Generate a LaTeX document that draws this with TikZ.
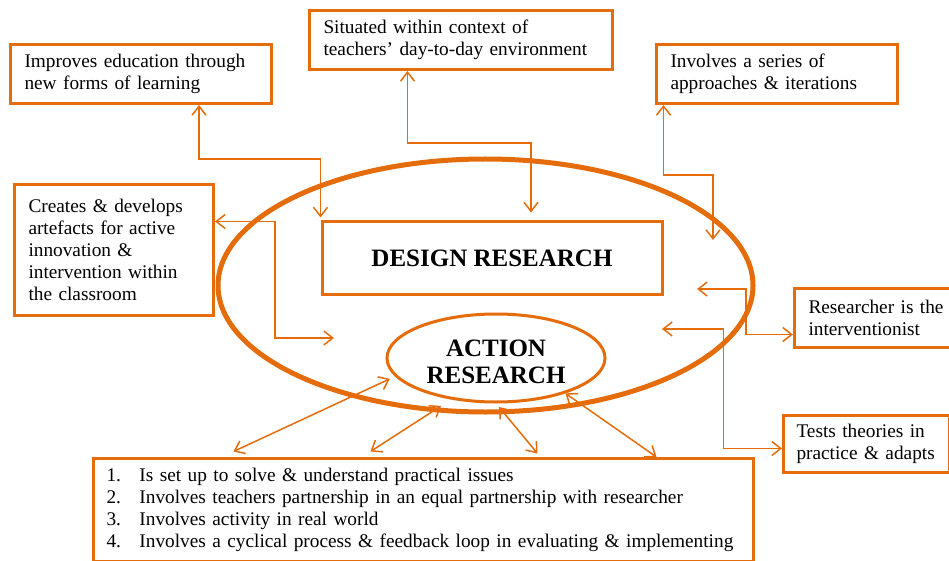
\documentclass[tikz,border=0pt]{standalone}
\usepackage{fontspec}
\setmainfont{Liberation Serif}
\usetikzlibrary{shapes.geometric,arrows.meta}

\definecolor{arorange}{HTML}{E46C0A}
\newcommand{\itemnum}[1]{\makebox[33pt][l]{#1.}}

\tikzset{
  notebox/.style={draw=arorange, line width=3pt, anchor=north west, align=left,
    inner xsep=14pt, inner ysep=0pt, font=\fontsize{19.3}{22}\selectfont},
  headtext/.style={font=\fontsize{25}{27}\selectfont\bfseries, align=center},
  link/.style={draw=arorange, line width=1.5pt,
    {Straight Barb[length=9pt,width=14pt]}-{Straight Barb[length=9pt,width=14pt]}},
}

\begin{document}
\begin{tikzpicture}[x=1pt, y=-1pt]
    \useasboundingbox (0,0) rectangle (949,561);

    % outer ring and the two research types
    \node[ellipse, draw=arorange, line width=5pt, minimum width=535pt,
          minimum height=253pt, inner sep=0pt] (drring) at (485.5,285.5) {};
    \node[draw=arorange, line width=3pt, minimum width=340pt, minimum height=72pt,
          headtext] (design) at (492,258) {DESIGN RESEARCH};
    \node[ellipse, draw=arorange, line width=3pt, minimum width=218pt,
          minimum height=88pt, inner sep=0pt] (ar) at (496,358) {};
    \node[headtext] (artitle) at ([yshift=-4pt]ar.center) {ACTION\\RESEARCH};

    % design research features
    \node[notebox, text width=233pt, minimum width=261pt, minimum height=59pt]
        (learn) at (9,43) {Improves education through\\new forms of learning};
    \node[notebox, text width=275pt, minimum width=303pt, minimum height=59pt]
        (context) at (308,9) {Situated within context of\\teachers' day-to-day environment};
    \node[notebox, text width=213pt, minimum width=241pt, minimum height=59pt]
        (iter) at (655,43) {Involves a series of\\approaches \& iterations};
    \node[notebox, text width=171pt, minimum width=199pt, minimum height=131pt]
        (artefact) at (13,183) {Creates \& develops\\artefacts for active\\innovation \&\\intervention within\\the classroom};
    \node[notebox, text width=140pt, minimum width=168pt, minimum height=59pt]
        (interv) at (793,287) {Researcher is the\\interventionist};
    \node[notebox, inner xsep=13pt, text width=140pt, minimum width=166pt,
          minimum height=57pt]
        (adapt) at (782,414) {Tests theories in\\practice \& adapts};

    % action research features
    \node[notebox, inner xsep=13pt, text width=634pt, minimum width=660pt,
          minimum height=103pt] (practice) at (92,457) {%
        \itemnum{1}Is set up to solve \& understand practical issues\\
        \itemnum{2}Involves teachers partnership in an equal partnership with researcher\\
        \itemnum{3}Involves activity in real world\\
        \itemnum{4}Involves a cyclical process \& feedback loop in evaluating \& implementing};

    % free ends inside the ring
    \coordinate (iterend) at (713,240);
    \coordinate (artend) at (334,338);
    \coordinate (intvend) at (697,289);
    \coordinate (adaptend) at (662,329);

    % elbow links
    \draw[link] ([xshift=58pt]learn.south) -- ++(0,54) -| ([yshift=3pt]design.north west);
    \draw[link] ([xshift=-53.5pt]context.south) -- ++(0,72) -| ([xshift=39pt,yshift=8pt]design.north);
    \draw[link] ([xshift=-113.5pt]iter.south) -- ++(0,70) -| (iterend);
    \draw[link] ([yshift=28.5pt]artefact.east) -- ++(60,0) |- (artend);
    \draw[link] ([yshift=-16.5pt]interv.west) -- ++(-47,0) |- (intvend);
    \draw[link] ([yshift=-4.5pt]adapt.west) -- ++(-58.5,0) |- (adaptend);

    % diagonal links
    \draw[link] ([xshift=-190pt,yshift=5.5pt]practice.north) -- ([xshift=-8pt]ar.192);
    \draw[link] ([xshift=-53pt,yshift=5.5pt]practice.north) -- ([xshift=-55pt,yshift=-2.5pt]ar.south);
    \draw[link] ([xshift=114pt,yshift=3.5pt]practice.north) -- ([xshift=3pt,yshift=-3.5pt]ar.south);
    \draw[link] ([xshift=233pt]practice.north) -- (ar.-27.5);
\end{tikzpicture}
\end{document}
